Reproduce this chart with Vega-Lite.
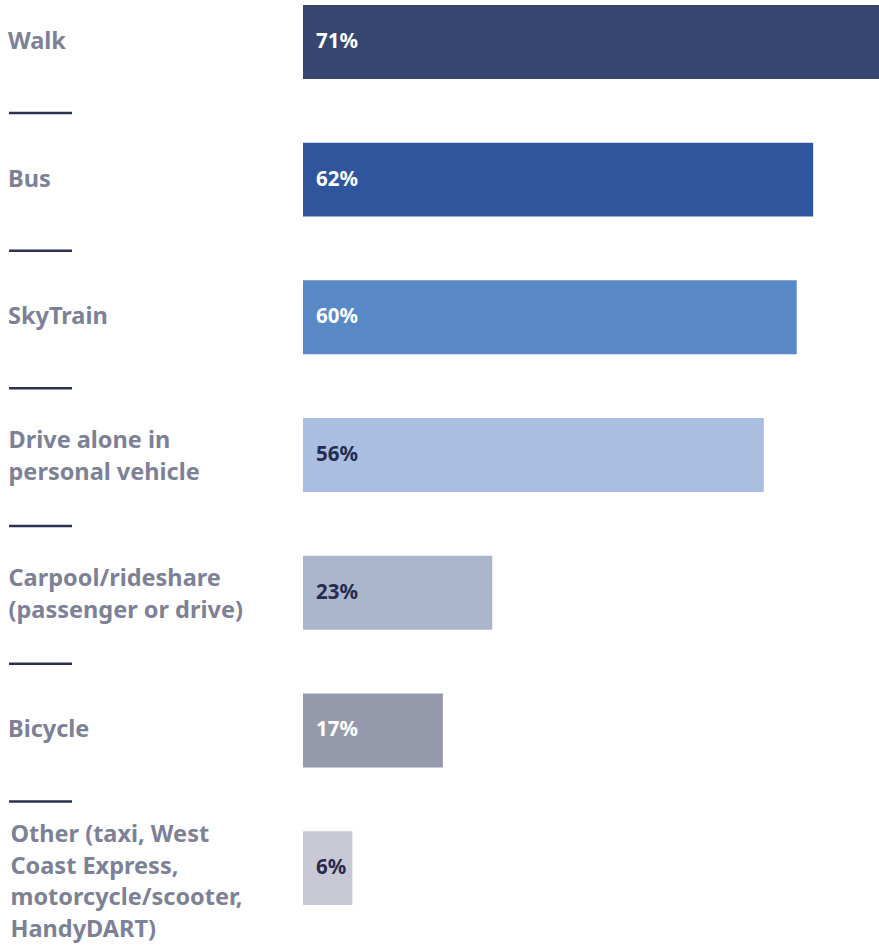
{
  "$schema": "https://vega.github.io/schema/vega-lite/v6.json",
  "padding": 0,
  "spacing": 0,
  "background": "white",
  "config": {"view": {"stroke": null}, "concat": {"spacing": 0}},
  "datasets": {
    "modes": [
      {"mode": "Walk", "label": "Walk", "pct": 71, "pctText": "71%", "lines": 1},
      {"mode": "Bus", "label": "Bus", "pct": 62, "pctText": "62%", "lines": 1},
      {"mode": "SkyTrain", "label": "SkyTrain", "pct": 60, "pctText": "60%", "lines": 1},
      {"mode": "Drive alone", "label": "Drive alone in\npersonal vehicle", "pct": 56, "pctText": "56%", "lines": 2},
      {"mode": "Carpool", "label": "Carpool/rideshare\n(passenger or drive)", "pct": 23, "pctText": "23%", "lines": 2},
      {"mode": "Bicycle", "label": "Bicycle", "pct": 17, "pctText": "17%", "lines": 1},
      {"mode": "Other", "label": "Other (taxi, West\nCoast Express,\nmotorcycle/scooter,\nHandyDART)", "pct": 6, "pctText": "6%", "lines": 4}
    ]
  },
  "hconcat": [
    {
      "width": 303,
      "height": 948,
      "data": {"name": "modes"},
      "layer": [
        {
          "transform": [{"filter": "datum.lines === 1"}],
          "mark": {"type": "text", "align": "left", "baseline": "middle", "font": "Noto Sans", "fontWeight": "bold", "fontSize": 23.5, "lineBreak": "\n", "lineHeight": 32, "color": "#7d8196"},
          "encoding": {
            "y": {"field": "mode", "type": "nominal", "axis": null, "scale": {"domain": ["Walk", "Bus", "SkyTrain", "Drive alone", "Carpool", "Bicycle", "Other"], "paddingInner": 0.463, "paddingOuter": 0.174, "align": 0.104}},
            "x": {"datum": 8, "type": "quantitative", "axis": null, "scale": {"domain": [0, 303], "nice": false, "zero": false}},
            "text": {"field": "label"}
          }
        },
        {
          "transform": [{"filter": "datum.lines === 2"}],
          "mark": {"type": "text", "align": "left", "baseline": "middle", "font": "Noto Sans", "fontWeight": "bold", "fontSize": 23.5, "lineBreak": "\n", "lineHeight": 32, "color": "#7d8196", "dy": -14},
          "encoding": {
            "y": {"field": "mode", "type": "nominal", "axis": null},
            "x": {"datum": 8.5, "type": "quantitative"},
            "text": {"field": "label"}
          }
        },
        {
          "transform": [{"filter": "datum.lines === 4"}],
          "mark": {"type": "text", "align": "left", "baseline": "middle", "font": "Noto Sans", "fontWeight": "bold", "fontSize": 23.5, "lineBreak": "\n", "lineHeight": 31.5, "color": "#7d8196", "dy": -33},
          "encoding": {
            "y": {"field": "mode", "type": "nominal", "axis": null},
            "x": {"datum": 10.5, "type": "quantitative"},
            "text": {"field": "label"}
          }
        },
        {
          "transform": [{"filter": "datum.mode !== 'Other'"}],
          "mark": {"type": "rule", "color": "#2b3150", "strokeWidth": 2.5, "yOffset": 71},
          "encoding": {
            "y": {"field": "mode", "type": "nominal", "axis": null},
            "x": {"datum": 9, "type": "quantitative"},
            "x2": {"datum": 72}
          }
        }
      ]
    },
    {
      "width": 576,
      "height": 948,
      "data": {"name": "modes"},
      "layer": [
        {
          "mark": {"type": "bar", "clip": true},
          "encoding": {
            "y": {"field": "mode", "type": "nominal", "axis": null, "scale": {"domain": ["Walk", "Bus", "SkyTrain", "Drive alone", "Carpool", "Bicycle", "Other"], "paddingInner": 0.463, "paddingOuter": 0.174, "align": 0.104}},
            "x": {"field": "pct", "type": "quantitative", "axis": null, "scale": {"domain": [0, 70], "nice": false}},
            "color": {"field": "mode", "type": "nominal", "legend": null, "scale": {"domain": ["Walk", "Bus", "SkyTrain", "Drive alone", "Carpool", "Bicycle", "Other"], "range": ["#364670", "#2f559c", "#5888c6", "#aabee2", "#a9b6cb", "#9699ab", "#c9c8d5"]}}
          }
        },
        {
          "mark": {"type": "text", "align": "left", "baseline": "middle", "font": "Noto Sans", "fontWeight": "bold", "fontSize": 20.5, "dx": 13},
          "encoding": {
            "y": {"field": "mode", "type": "nominal", "axis": null},
            "x": {"datum": 0, "type": "quantitative"},
            "text": {"field": "pctText"},
            "color": {"field": "mode", "type": "nominal", "legend": null, "scale": {"domain": ["Walk", "Bus", "SkyTrain", "Drive alone", "Carpool", "Bicycle", "Other"], "range": ["#ffffff", "#ffffff", "#ffffff", "#262c4f", "#262c4f", "#ffffff", "#262c4f"]}}
          }
        }
      ],
      "resolve": {"scale": {"color": "independent"}}
    }
  ]
}
